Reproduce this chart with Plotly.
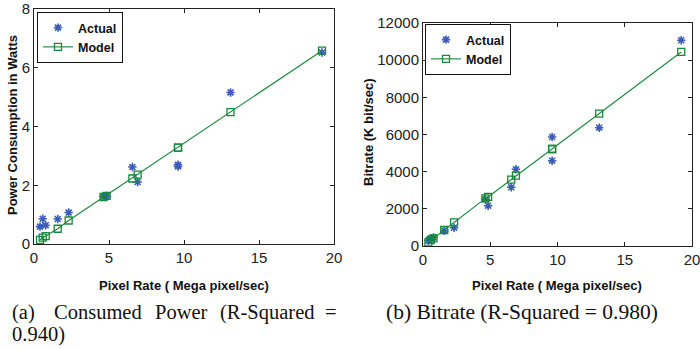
import plotly.graph_objects as go

# ---- data ----
pixel_rate = [0.4, 0.58, 0.78, 1.58, 2.31, 4.64, 4.84, 6.56, 6.91, 9.6, 9.6, 13.1, 19.2]
power_actual = [0.59, 0.86, 0.64, 0.85, 1.07, 1.62, 1.64, 2.62, 2.11, 2.7, 2.64, 5.16, 6.52]
power_model = [0.14, 0.22, 0.27, 0.52, 0.80, 1.60, 1.64, 2.23, 2.36, 3.28, 3.28, 4.49, 6.58]
bitrate_actual = [300, 400, 460, 823, 985, 2513, 2169, 3159, 4128, 5866, 4591, 6367, 11070]
bitrate_model = [200, 323, 414, 861, 1274, 2560, 2640, 3570, 3785, 5220, 5220, 7120, 10441]

x_ticks = [0, 5, 10, 15, 20]
power_ticks = [0, 2, 4, 6, 8]
bitrate_ticks = [0, 2000, 4000, 6000, 8000, 10000, 12000]
bitrate_tick_text = [str(v) for v in bitrate_ticks]

W, H = 700, 349
BLUE = "#3a5bb8"
GREEN = "#16883a"
AX = "#222222"

def px(x):
    return x / W

def py(y):
    return 1 - y / H

fig = go.Figure()

for i, (ya, ym) in enumerate([(power_actual, power_model), (bitrate_actual, bitrate_model)]):
    xa = "x" if i == 0 else "x2"
    yy = "y" if i == 0 else "y2"
    lg = "legend" if i == 0 else "legend2"
    fig.add_trace(go.Scatter(
        x=pixel_rate, y=ya, mode="markers", name="Actual",
        marker=dict(symbol="asterisk", size=7, color=BLUE, line=dict(color=BLUE, width=1.6)),
        xaxis=xa, yaxis=yy, legend=lg))
    fig.add_trace(go.Scatter(
        x=pixel_rate, y=ym, mode="lines+markers", name="Model",
        line=dict(color=GREEN, width=1.1),
        marker=dict(symbol="square-open", size=7, color=GREEN, line=dict(color=GREEN, width=1.3)),
        xaxis=xa, yaxis=yy, legend=lg))

tickfont = dict(family="Liberation Sans, Arial, sans-serif", size=15, color=AX)
axis_common = dict(showgrid=False, zeroline=False, showline=True, linecolor=AX, linewidth=1,
                   mirror="ticks", ticks="inside", ticklen=4, tickcolor=AX, tickfont=tickfont,
                   automargin=False, ticklabeloverflow="allow")

legfont = dict(family="Liberation Sans, Arial, sans-serif", size=12.5, color="#111", weight="bold")

fig.update_layout(
    width=W, height=H, margin=dict(l=0, r=0, t=0, b=0),
    paper_bgcolor="white", plot_bgcolor="white", showlegend=True,
    xaxis=dict(domain=[px(34), px(334)], range=[0, 20], tickvals=x_ticks, anchor="y", **axis_common),
    yaxis=dict(domain=[py(244), py(9)], range=[0, 8], tickvals=power_ticks, anchor="x", **axis_common),
    xaxis2=dict(domain=[px(423), px(692)], range=[0, 20], tickvals=x_ticks, anchor="y2", **axis_common),
    yaxis2=dict(domain=[py(246), py(23)], range=[0, 12000], tickvals=bitrate_ticks,
                ticktext=bitrate_tick_text, anchor="x2", **axis_common),
    legend=dict(x=px(37), y=py(12), xanchor="left", yanchor="top", bgcolor="white",
                bordercolor="#111", borderwidth=1, font=legfont,
                tracegroupgap=0, itemwidth=30),
    legend2=dict(x=px(425), y=py(24), xanchor="left", yanchor="top", bgcolor="white",
                 bordercolor="#111", borderwidth=1, font=legfont,
                 tracegroupgap=0, itemwidth=30),
)

bold = dict(family="Liberation Sans, Arial, sans-serif", size=13, color="#111", weight="bold")
serif_a = dict(family="Liberation Serif, Times New Roman, serif", size=20.5, color="#111")
serif_b = dict(family="Liberation Serif, Times New Roman, serif", size=21.5, color="#111")

ann = [
    dict(text="Power Consumption in Watts", x=px(13), y=py(125), textangle=-90, font=bold),
    dict(text="Bitrate (K bit/sec)", x=px(368), y=py(132), textangle=-90, font=bold),
    dict(text="Pixel Rate ( Mega pixel/sec)", x=px(184), y=py(285), font=bold),
    dict(text="Pixel Rate ( Mega pixel/sec)", x=px(557), y=py(285), font=bold),
]
for t, x0, anc in [("(a)", 10, "left"), ("Consumed", 52, "left"), ("Power", 153, "left"),
                   ("(R-Squared", 218, "left"), ("=", 339, "right")]:
    ann.append(dict(text=t, x=px(x0), y=py(312), xanchor=anc, font=serif_a))
ann.append(dict(text="0.940)", x=px(10), y=py(334), xanchor="left", font=serif_a))
ann.append(dict(text="(b) Bitrate (R-Squared = 0.980)", x=px(384), y=py(312), xanchor="left",
                font=serif_b))

for a in ann:
    a.setdefault("xanchor", "center")
    fig.add_annotation(xref="paper", yref="paper", showarrow=False, yanchor="middle", **a)

fig.write_html("out.html")
